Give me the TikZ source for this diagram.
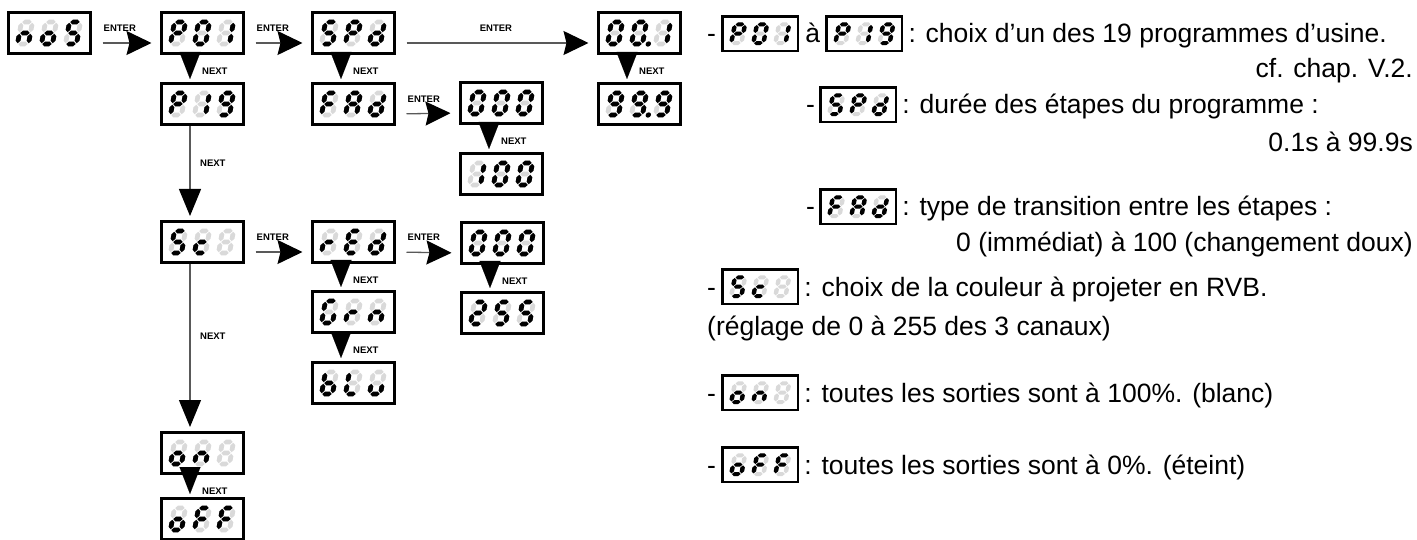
\documentclass[tikz,border=0pt]{standalone}
\usepackage{fontspec}
\setmainfont{Liberation Sans}
\usetikzlibrary{arrows.meta,calc}

\definecolor{segdimc}{gray}{0.85}
\definecolor{linegray}{gray}{0.35}
\def\dxs{1}
\def\dys{1}

\tikzset{
  segon/.style={fill=black},
  segdim/.style={fill=segdimc},
  dispbox/.style={draw, line width=\dys*3pt, inner sep=0pt, fill=white,
    minimum width=\dxs*82pt, minimum height=\dys*41pt},
  lbl/.style={font=\fontsize{9.5}{10}\selectfont\bfseries, inner sep=0pt},
  txt/.style={font=\fontsize{26.5}{30}\selectfont, inner sep=0pt},
  enterarrow/.style={draw=linegray, line width=1.3pt, shorten <=11pt, shorten >=8pt,
    -{Stealth[length=25pt, width=24pt, inset=3pt, color=black]}},
  nexttri/.style={draw=black, line width=0.01pt, shorten >=3pt,
    -{Triangle[length=27pt, width=21pt, color=black]}},
  nextline/.style={draw=linegray, line width=1.2pt, shorten >=4pt,
    -{Triangle[length=27pt, width=22pt, color=black]}},
}

% the seven segments of one digit (11pt wide, 22pt high) and its decimal point
\newcommand\segA[1]{\fill[#1] (0.8,22)--(3.2,24.4)--(7.8,24.4)--(10.2,22)--(7.8,19.6)--(3.2,19.6)--cycle;}
\newcommand\segG[1]{\fill[#1] (0.8,11)--(3.2,13.4)--(7.8,13.4)--(10.2,11)--(7.8,8.6)--(3.2,8.6)--cycle;}
\newcommand\segD[1]{\fill[#1] (0.8,0)--(3.2,2.4)--(7.8,2.4)--(10.2,0)--(7.8,-2.4)--(3.2,-2.4)--cycle;}
\newcommand\segF[1]{\fill[#1] (0,11.8)--(2.4,14.2)--(2.4,18.8)--(0,21.2)--(-2.4,18.8)--(-2.4,14.2)--cycle;}
\newcommand\segE[1]{\fill[#1] (0,0.8)--(2.4,3.2)--(2.4,7.8)--(0,10.2)--(-2.4,7.8)--(-2.4,3.2)--cycle;}
\newcommand\segB[1]{\fill[#1] (11,11.8)--(13.4,14.2)--(13.4,18.8)--(11,21.2)--(8.6,18.8)--(8.6,14.2)--cycle;}
\newcommand\segC[1]{\fill[#1] (11,0.8)--(13.4,3.2)--(13.4,7.8)--(11,10.2)--(8.6,7.8)--(8.6,3.2)--cycle;}
\newcommand\segP[1]{\fill[black] (16.8,0) circle[radius=2.7];}
\newcommand\segX[1]{}
\newcommand\segS[1]{\segA{#1}\segF{#1}\segG{#1}\segC{#1}\segD{#1}}
\newcommand\segO[1]{\segA{#1}\segB{#1}\segC{#1}\segD{#1}\segE{#1}\segF{#1}}

% one slanted digit; #1 = horizontal offset of its centre, #2 = lit segments
\newcommand\sdig[2]{%
  \begin{scope}[shift={(#1-7.5,11)}, xslant=0.18, x=1pt, y=1pt]
    \foreach \s in {A,B,C,D,E,F,G} {\csname seg\s\endcsname{segdim}}
    \foreach \s in {#2} {\csname seg\s\endcsname{segon}}
  \end{scope}}

% a three-digit display: name, centre, x scale, y scale, digits
\newcommand\disp[7]{%
  \begin{scope}[shift={#2}, xscale=#3, yscale=#4]
    \def\dxs{#3}\def\dys{#4}
    \node[dispbox] (#1) at (0,0) {};
    \sdig{-24}{#5}\sdig{0}{#6}\sdig{24}{#7}
  \end{scope}}

\begin{document}
\begin{tikzpicture}[x=1pt, y=-1pt]
\path[use as bounding box, fill=white] (0,0) rectangle (1417,540);

% ---- menu tree ----
\disp{noS}{(49,33)}{1}{1}{C,E,G}{C,D,E,G}{S}
\disp{P01}{(202,33)}{1}{1}{A,B,E,F,G}{O}{B,C}
\disp{SPd}{(353,33)}{1}{1}{S}{A,B,E,F,G}{B,C,D,E,G}
\disp{vA}{(639,33)}{1}{1}{O}{O,P}{B,C}
\disp{P19}{(202,104)}{1}{1}{A,B,E,F,G}{B,C}{A,B,C,D,F,G}
\disp{FAd}{(353,104)}{1}{1}{A,E,F,G}{A,B,C,E,F,G}{B,C,D,E,G}
\disp{vB}{(639,104)}{1}{1}{A,B,C,D,F,G}{A,B,C,D,F,G,P}{A,B,C,D,F,G}
\disp{vC}{(501,103)}{1}{1}{O}{O}{O}
\disp{vD}{(501,174)}{1}{1}{B,C}{O}{O}
\disp{Sc}{(202,242)}{1}{1}{S}{D,E,G}{X}
\disp{rEd}{(353,242)}{1}{1}{E,G}{A,D,E,F,G}{B,C,D,E,G}
\disp{vE}{(502,243)}{1}{1}{O}{O}{O}
\disp{Grn}{(353,312)}{1}{1}{A,C,D,E,F}{E,G}{C,E,G}
\disp{vF}{(502,313)}{1}{1}{A,B,D,E,G}{S}{S}
\disp{bLu}{(353,383)}{1}{1}{C,D,E,F,G}{D,E,F}{C,D,E}
\disp{on}{(202,453)}{1}{1}{C,D,E,G}{C,E,G}{X}
\disp{oFF}{(202,519)}{1}{1}{C,D,E,G}{A,E,F,G}{A,E,F,G}

% ENTER connectors
\draw[enterarrow] ([yshift=-10pt]noS.east) -- ([yshift=-10pt]P01.west);
\draw[enterarrow] ([yshift=-10pt]P01.east) -- ([yshift=-10pt]SPd.west);
\draw[enterarrow] ([yshift=-10pt]SPd.east) -- ([yshift=-10pt]vA.west);
\draw[enterarrow] ([yshift=-10pt]FAd.east) -- ([yshift=-10pt]vC.west);
\draw[enterarrow] ([yshift=-10pt]Sc.east) -- ([yshift=-10pt]rEd.west);
\draw[enterarrow] ([yshift=-10pt]rEd.east) -- ([yshift=-10pt]vE.west);

\node[lbl, anchor=base west] (e1) at ([xshift=12pt, yshift=1pt]noS.east) {ENTER};
\node[lbl, anchor=base west] (e2) at ([xshift=12pt, yshift=1pt]P01.east) {ENTER};
\node[lbl, anchor=base] (e3) at ($([yshift=1pt]SPd.east)!0.5!([yshift=1pt]vA.west)$) {ENTER};
\node[lbl, anchor=base west] (e4) at ([xshift=12pt, yshift=1pt]FAd.east) {ENTER};
\node[lbl, anchor=base west] (e5) at ([xshift=12pt, yshift=1pt]Sc.east) {ENTER};
\node[lbl, anchor=base west] (e6) at ([xshift=12pt, yshift=1pt]rEd.east) {ENTER};

% NEXT steps between stacked displays
\foreach \a/\b/\n in {P01/P19/n1, SPd/FAd/n2, vA/vB/n3, vC/vD/n4, rEd/Grn/n5, Grn/bLu/n6, vE/vF/n7, on/oFF/n8} {
  \draw[nexttri] ([xshift=-12pt]\a.south) -- ([xshift=-12pt]\b.north);
  \node[lbl, anchor=base west] (\n) at ([yshift=-19.5pt]\a.south) {NEXT};
}

% long NEXT connectors down the first column
\draw[nextline] ([xshift=-12pt]P19.south) -- ([xshift=-12pt]Sc.north);
\draw[nextline] ([xshift=-12pt]Sc.south) -- ([xshift=-12pt]on.north);
\node[lbl, anchor=west] (n9) at ($([xshift=-2pt]P19.south)!0.4!([xshift=-2pt]Sc.north)$) {NEXT};
\node[lbl, anchor=west] (n10) at ($([xshift=-2pt]Sc.south)!0.43!([xshift=-2pt]on.north)$) {NEXT};

% ---- legend ----
\node[txt, anchor=base west] (d1) at (707,43) {-};
\disp{sP01}{($(d1.base east)+(44,-9.3)$)}{0.92}{0.85}{A,B,E,F,G}{O}{B,C}
\node[txt, anchor=base west, xshift=6pt] (a1) at (sP01.east |- d1.base) {à};
\disp{sP19}{($(a1.base east)+(44,-9.3)$)}{0.92}{0.85}{A,B,E,F,G}{B,C}{A,B,C,D,F,G}
\node[txt, anchor=base west, xshift=5pt] (t1) at (sP19.east |- d1.base) {: choix d’un des 19 programmes d’usine.};
\node[txt, anchor=base east] (t2) at (1413,78) {cf. chap. V.2.};

\node[txt, anchor=base west] (d3) at (806,114) {-};
\disp{sSPd}{($(d3.base east)+(43,-9.3)$)}{0.92}{0.85}{S}{A,B,E,F,G}{B,C,D,E,G}
\node[txt, anchor=base west, xshift=5pt] (t3) at (sSPd.east |- d3.base) {: durée des étapes du programme :};
\node[txt, anchor=base east] (t4) at (1413,152) {0.1s à 99.9s};

\node[txt, anchor=base west] (d5) at (806,216) {-};
\disp{sFAd}{($(d5.base east)+(43,-9.3)$)}{0.92}{0.85}{A,E,F,G}{A,B,C,E,F,G}{B,C,D,E,G}
\node[txt, anchor=base west, xshift=5pt] (t5) at (sFAd.east |- d5.base) {: type de transition entre les étapes :};
\node[txt, anchor=base east] (t6) at (1413,252) {0 (immédiat) à 100 (changement doux)};

\node[txt, anchor=base west] (d7) at (707,296) {-};
\disp{sSc}{($(d7.base east)+(44,-9.3)$)}{0.92}{0.85}{S}{D,E,G}{X}
\node[txt, anchor=base west, xshift=5pt] (t7) at (sSc.east |- d7.base) {: choix de la couleur à projeter en RVB.};
\node[txt, anchor=base west] (t8) at (707,335) {(réglage de 0 à 255 des 3 canaux)};

\node[txt, anchor=base west] (d9) at (707,402) {-};
\disp{son}{($(d9.base east)+(44,-9.3)$)}{0.92}{0.85}{C,D,E,G}{C,E,G}{X}
\node[txt, anchor=base west, xshift=5pt] (t9) at (son.east |- d9.base) {: toutes les sorties sont à 100\%. (blanc)};

\node[txt, anchor=base west] (d10) at (707,474) {-};
\disp{soFF}{($(d10.base east)+(44,-9.3)$)}{0.92}{0.85}{C,D,E,G}{A,E,F,G}{A,E,F,G}
\node[txt, anchor=base west, xshift=5pt] (t10) at (soFF.east |- d10.base) {: toutes les sorties sont à 0\%. (éteint)};
\end{tikzpicture}
\end{document}
